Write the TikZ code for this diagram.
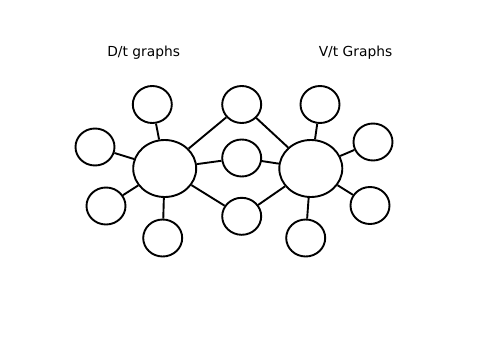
\documentclass[tikz,border=0pt]{standalone}
\usepackage{fontspec}
\setmainfont{DejaVu Sans}
\usetikzlibrary{shapes.geometric}
\begin{document}
\begin{tikzpicture}[x=1pt,y=-1pt,
  small/.style={ellipse,draw,line width=1.9pt,minimum width=39pt,minimum height=37pt,inner sep=0pt},
  big/.style={ellipse,draw,line width=1.9pt,minimum width=63pt,minimum height=57pt,inner sep=0pt},
  link/.style={line width=1.9pt},
  lbl/.style={font=\fontsize{13.8}{16}\selectfont,inner sep=0pt}]
\useasboundingbox (0,0) rectangle (500,353);
\node[lbl] (t1) at (143.7,52.5) {D/t graphs};
\node[lbl] (t2) at (355.5,52.5) {V/t Graphs};
\node[big] (L) at (164.7,168.5) {};
\node[big] (R) at (310.8,168.5) {};
\node[small] (l1) at (152.3,104.5) {};
\node[small] (l2) at (95,147) {};
\node[small] (l3) at (106,206) {};
\node[small] (l4) at (162.7,238) {};
\node[small] (m1) at (241.7,104.5) {};
\node[small] (m2) at (241.7,158) {};
\node[small] (m3) at (241.7,216.3) {};
\node[small] (r1) at (320,104.5) {};
\node[small] (r2) at (373,142) {};
\node[small] (r3) at (370,205.5) {};
\node[small] (r4) at (305.7,238) {};
\draw[link] (L) -- (l1);
\draw[link] (L) -- (l2);
\draw[link] (L) -- (l3);
\draw[link] (L) -- (l4);
\draw[link] (L) -- (m1);
\draw[link] (L) -- (m2);
\draw[link] (L) -- (m3);
\draw[link] (R) -- (m1);
\draw[link] (R) -- (m2);
\draw[link] (R) -- (m3);
\draw[link] (R) -- (r1);
\draw[link] (R) -- (r2);
\draw[link] (R) -- (r3);
\draw[link] (R) -- (r4);
\end{tikzpicture}
\end{document}
